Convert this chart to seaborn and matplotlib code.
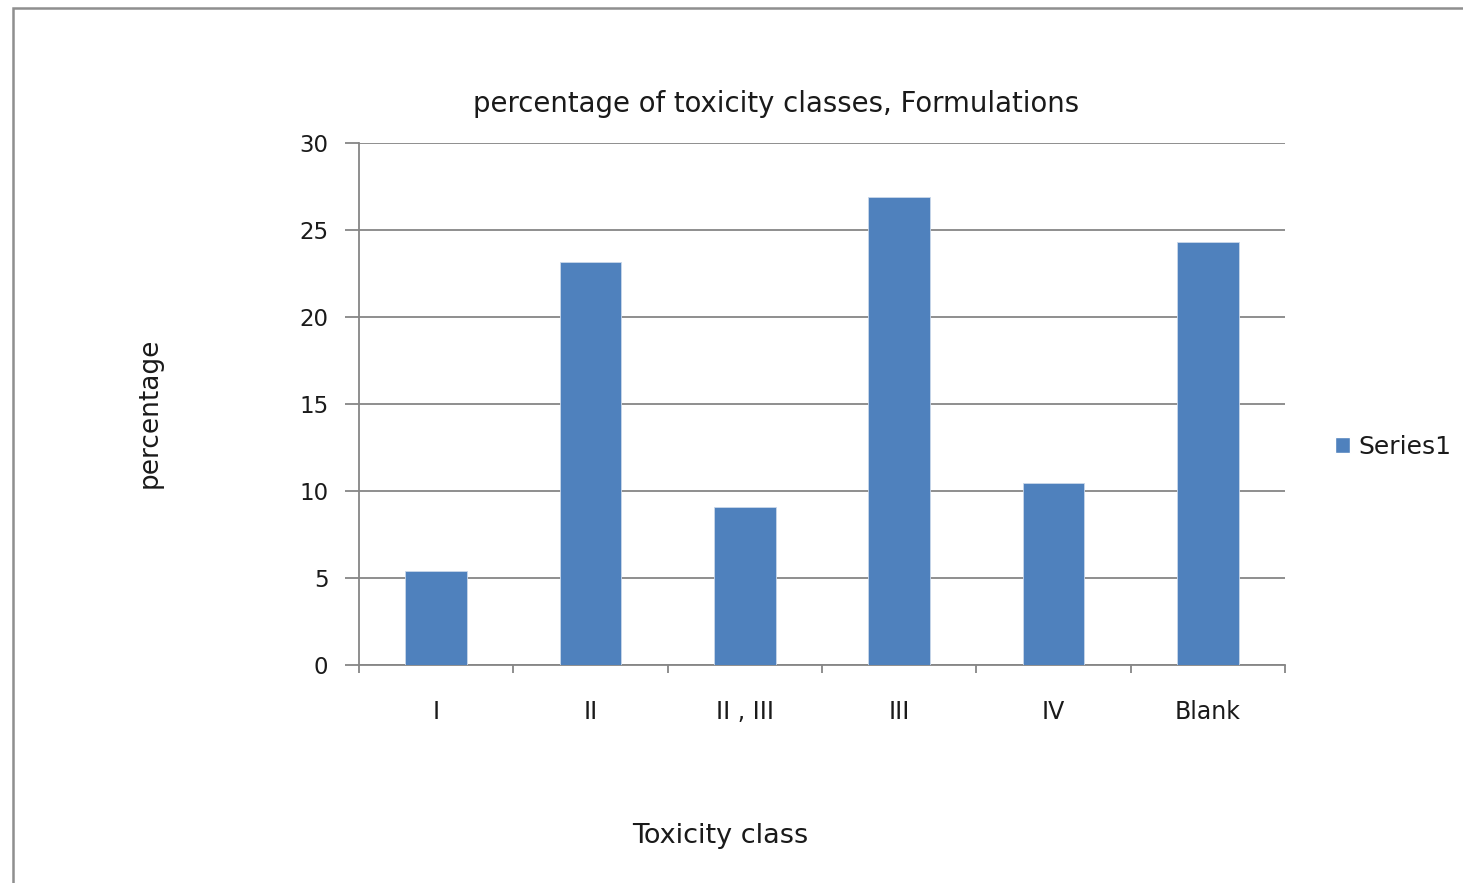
import matplotlib
matplotlib.use("Agg")
import matplotlib.pyplot as plt
from matplotlib.patches import Rectangle, Patch
import seaborn as sns
import pandas as pd

# Share of formulations per toxicity class
categories = ["I", "II", "II , III", "III", "IV", "Blank"]
percentages = [5.4, 23.2, 9.1, 26.9, 10.45, 24.3]
series_name = "Series1"

title = "percentage of toxicity classes, Formulations"
x_label = "Toxicity class"
y_label = "percentage"
y_ticks = [0, 5, 10, 15, 20, 25, 30]

bar_color = "#4F81BD"
grid_color = "#868686"
text_color = "#1a1a1a"

sns.set_theme(style="white")
plt.rcParams["font.family"] = ["DejaVu Sans"]

W, H = 1463, 883
fig = plt.figure(figsize=(W / 100, H / 100), dpi=100)
fig.patch.set_facecolor("white")

# chart frame (runs off the right and bottom edges)
fig.patches.append(Rectangle((12.5 / W, -0.2), 1.5, 1.2 - 7.5 / H,
                             transform=fig.transFigure, fill=False,
                             edgecolor="#8f8f8f", linewidth=1.8, zorder=0))

ax = fig.add_axes([359 / W, 1 - 665 / H, (1285 - 359) / W, (665 - 143.3) / H])

df = pd.DataFrame({"class": categories, "pct": percentages})
sns.barplot(data=df, x="class", y="pct", color=bar_color, width=0.4,
            saturation=1, edgecolor="#c9d7ea", linewidth=0.6, ax=ax, zorder=3)

ax.set_ylim(0, 30)
ax.set_xlim(-0.5, len(categories) - 0.5)
ax.set_yticks(y_ticks)
ax.set_yticklabels([str(t) for t in y_ticks], fontsize=16.5, color=text_color)
ax.yaxis.grid(True, color=grid_color, linewidth=1.3, zorder=0)
ax.set_axisbelow(True)

# category labels without marks; marks on the category boundaries
ax.set_xticks(range(len(categories)))
ax.set_xticklabels(categories, fontsize=17, color=text_color)
ax.tick_params(axis="x", which="major", length=0, pad=25)
ax.set_xticks([i - 0.5 for i in range(len(categories) + 1)], minor=True)
ax.tick_params(axis="x", which="minor", length=6, width=1.3, color=grid_color,
               direction="out", bottom=True)
ax.tick_params(axis="y", which="major", length=10, width=1.3, color=grid_color,
               direction="out", left=True, pad=12)

for side in ["top", "right"]:
    ax.spines[side].set_visible(False)
for side in ["left", "bottom"]:
    ax.spines[side].set_color(grid_color)
    ax.spines[side].set_linewidth(1.3)

ax.set_xlabel("")
ax.set_ylabel("")

fig.text(776 / W, 1 - 104 / H, title, ha="center", va="center",
         fontsize=19.8, color=text_color)
fig.text(720 / W, 1 - 836 / H, x_label, ha="center", va="center",
         fontsize=19.5, color=text_color)
fig.text(150 / W, 1 - 413 / H, y_label, ha="center", va="center",
         rotation=90, fontsize=19, color=text_color)

fig.legend(handles=[Patch(facecolor=bar_color, label=series_name)],
           loc="center left", bbox_to_anchor=(1312 / W, 1 - 447 / H),
           frameon=False, fontsize=18, handlelength=0.6, handleheight=0.6,
           handletextpad=0.35, labelcolor=text_color)

fig.savefig("out.png", dpi=100, facecolor="white")
